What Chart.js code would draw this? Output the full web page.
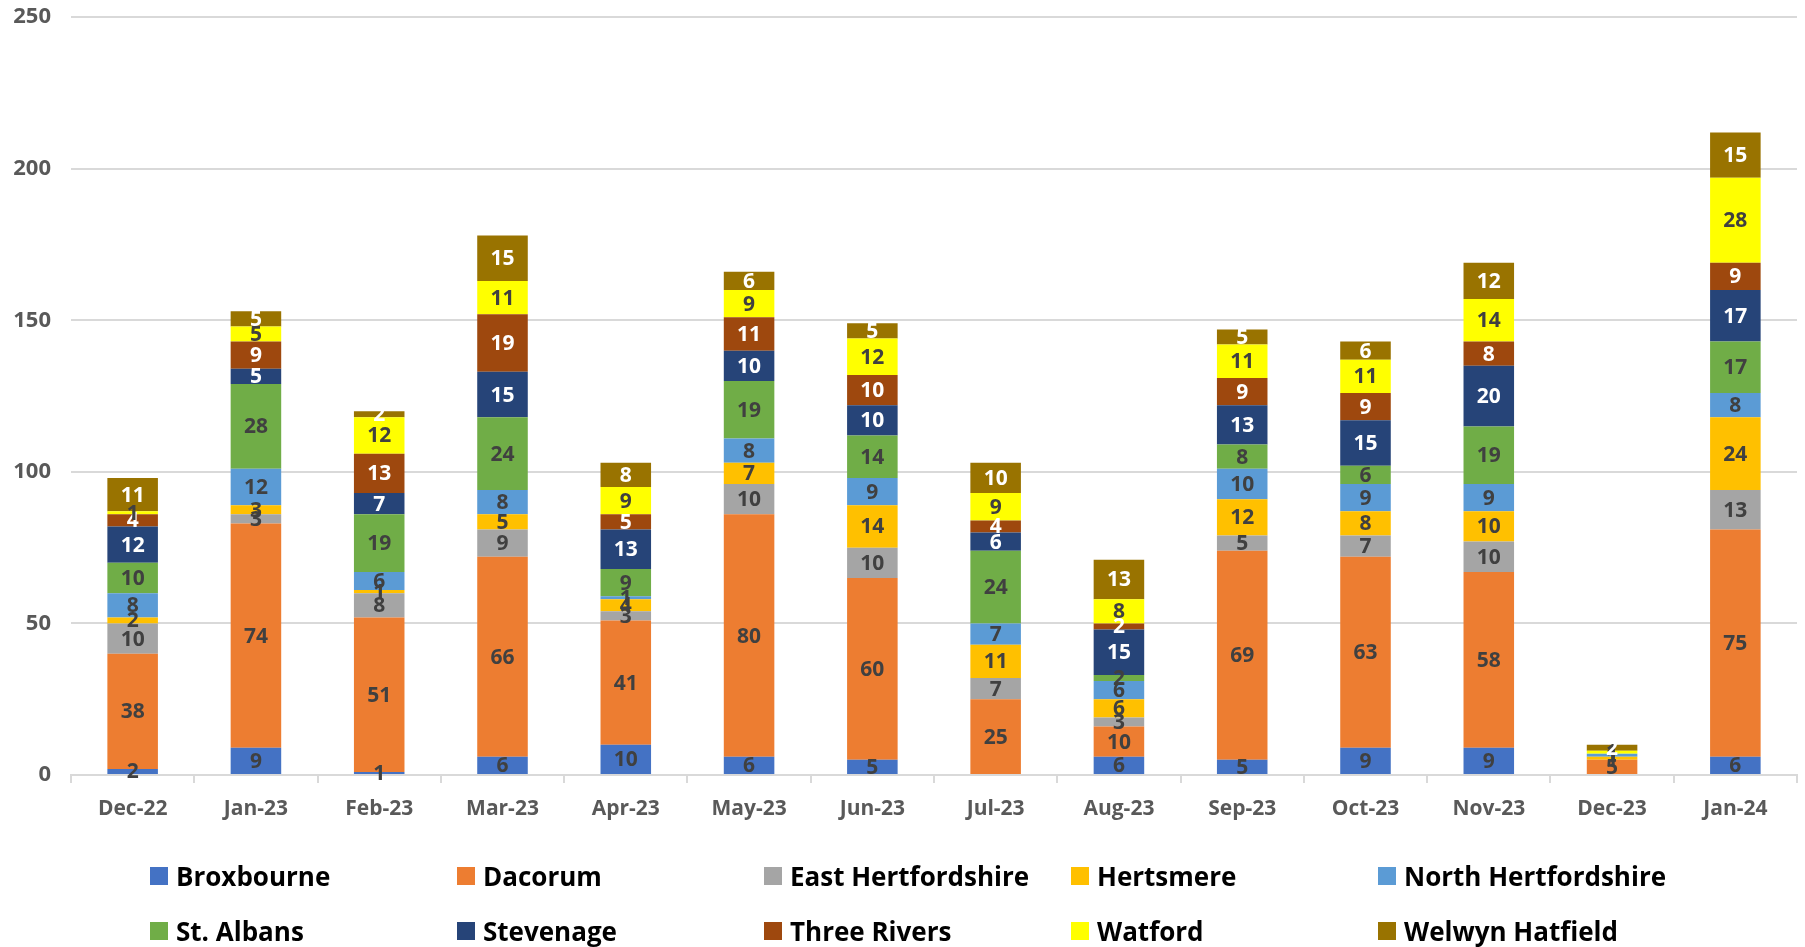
<!DOCTYPE html>
<html>
<head>
<meta charset="utf-8">
<script src="https://cdn.jsdelivr.net/npm/chart.js@4.4.1/dist/chart.umd.min.js"></script>
<style>
html,body{margin:0;padding:0;background:#fff;}
#wrap{position:relative;width:1805px;height:947px;overflow:hidden;}
#c{position:absolute;left:0;top:0;}
#legend{position:absolute;left:0;top:0;width:1805px;height:947px;pointer-events:none;font-family:"Open Sans",sans-serif;font-weight:700;font-size:26px;color:#000;}
.item{position:absolute;display:flex;align-items:center;white-space:nowrap;height:30px;}
.sw{width:18px;height:18px;margin-right:8px;flex:none;}
</style>
</head>
<body>
<div id="wrap">
<canvas id="c" width="1805" height="947"></canvas>
<div id="legend"></div>
</div>
<script>
const categories = ["Dec-22","Jan-23","Feb-23","Mar-23","Apr-23","May-23","Jun-23","Jul-23","Aug-23","Sep-23","Oct-23","Nov-23","Dec-23","Jan-24"];
const seriesNames = ["Broxbourne","Dacorum","East Hertfordshire","Hertsmere","North Hertfordshire","St. Albans","Stevenage","Three Rivers","Watford","Welwyn Hatfield"];
const broxbourne        = [2, 9, 1, 6, 10, 6, 5, 0, 6, 5, 9, 9, 0, 6];
const dacorum           = [38, 74, 51, 66, 41, 80, 60, 25, 10, 69, 63, 58, 5, 75];
const eastHertfordshire = [10, 3, 8, 9, 3, 10, 10, 7, 3, 5, 7, 10, 0, 13];
const hertsmere         = [2, 3, 1, 5, 4, 7, 14, 11, 6, 12, 8, 10, 1, 24];
const northHertfordshire= [8, 12, 6, 8, 1, 8, 9, 7, 6, 10, 9, 9, 1, 8];
const stAlbans          = [10, 28, 19, 24, 9, 19, 14, 24, 2, 8, 6, 19, 0, 17];
const stevenage         = [12, 5, 7, 15, 13, 10, 10, 6, 15, 13, 15, 20, 0, 17];
const threeRivers       = [4, 9, 13, 19, 5, 11, 10, 4, 2, 9, 9, 8, 0, 9];
const watford           = [1, 5, 12, 11, 9, 9, 12, 9, 8, 11, 11, 14, 1, 28];
const welwynHatfield    = [11, 5, 2, 15, 8, 6, 5, 10, 13, 5, 6, 12, 2, 15];
const yTicks = [0, 50, 100, 150, 200, 250];

const seriesValues = [broxbourne, dacorum, eastHertfordshire, hertsmere, northHertfordshire, stAlbans, stevenage, threeRivers, watford, welwynHatfield];
const colors = ["#4472C4","#ED7D31","#A5A5A5","#FFC000","#5B9BD5","#70AD47","#264478","#9E480E","#FFFF00","#997300"];
const labelColors = ["#404040","#404040","#404040","#404040","#404040","#404040","#FFFFFF","#FFFFFF","#404040","#FFFFFF"];

const FONT = '"Open Sans", sans-serif';

const datasets = seriesNames.map((n, i) => ({
  label: n,
  data: seriesValues[i],
  backgroundColor: colors[i],
  borderWidth: 0,
  barPercentage: 0.41,
  categoryPercentage: 1.0
}));

const valueLabels = {
  id: 'valueLabels',
  afterDatasetsDraw(chart) {
    const ctx = chart.ctx;
    ctx.save();
    ctx.font = 'bold 21px ' + FONT;
    ctx.textAlign = 'center';
    ctx.textBaseline = 'middle';
    chart.data.datasets.forEach((ds, i) => {
      const meta = chart.getDatasetMeta(i);
      meta.data.forEach((el, j) => {
        const v = ds.data[j];
        if (!v) return;
        const y = (el.y + el.base) / 2;
        ctx.fillStyle = labelColors[i];
        ctx.fillText(String(v), el.x, y + 1);
      });
    });
    ctx.restore();
  }
};

const chart = new Chart(document.getElementById('c'), {
  type: 'bar',
  data: { labels: categories, datasets: datasets },
  options: {
    responsive: false,
    devicePixelRatio: 1,
    animation: false,
    layout: { padding: { left: 0, right: 8, top: 15, bottom: 122 } },
    plugins: { legend: { display: false }, tooltip: { enabled: false } },
    scales: {
      x: {
        stacked: true,
        offset: true,
        grid: { display: true, drawOnChartArea: false, drawTicks: true, tickLength: 8, color: '#d9d9d9', lineWidth: 2, offset: true },
        border: { display: true, color: '#d9d9d9', width: 2 },
        ticks: { font: { family: FONT, size: 21, weight: 'bold' }, color: '#595959', padding: 13 },
        afterFit(s) { s.height = 50; }
      },
      y: {
        stacked: true,
        min: 0,
        max: 250,
        afterBuildTicks(s) { s.ticks = yTicks.map(v => ({ value: v })); },
        grid: { color: '#d9d9d9', lineWidth: 2, drawTicks: true, tickLength: 16, tickColor: 'rgba(0,0,0,0)' },
        border: { display: false },
        ticks: { font: { family: FONT, size: 22, weight: 'bold' }, color: '#595959', padding: 4 },
        afterFit(s) { s.width = 71; }
      }
    }
  },
  plugins: [valueLabels]
});

// legend built from the chart's datasets
const leg = document.getElementById('legend');
chart.data.datasets.forEach((ds, i) => {
  const row = Math.floor(i / 5), col = i % 5;
  const item = document.createElement('div');
  item.className = 'item';
  item.style.left = (150 + col * 307) + 'px';
  item.style.top = (861 + row * 55) + 'px';
  const sw = document.createElement('span');
  sw.className = 'sw';
  sw.style.background = ds.backgroundColor;
  const tx = document.createElement('span');
  tx.textContent = ds.label;
  item.appendChild(sw);
  item.appendChild(tx);
  leg.appendChild(item);
});
</script>
</body>
</html>
